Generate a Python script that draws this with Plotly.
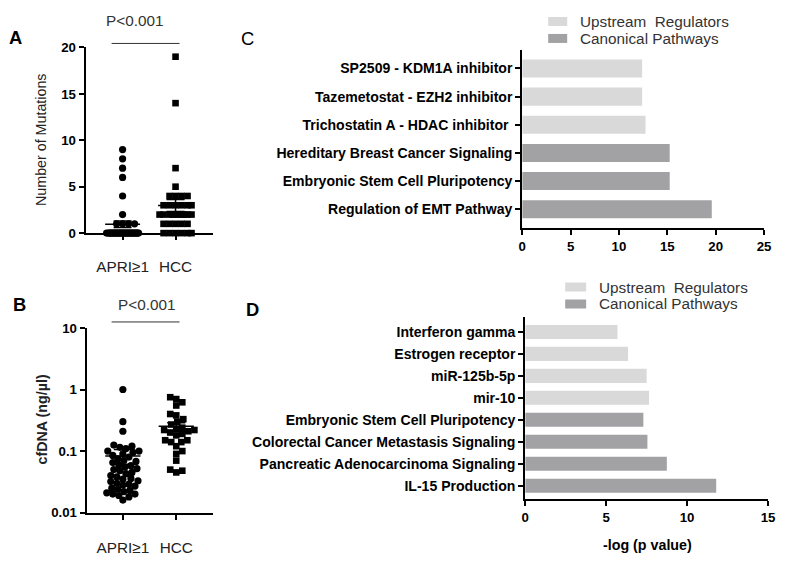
import math
import plotly.graph_objects as go

W, H = 791, 563

# ---------------- data ----------------
group_labels = ["APRI≥1", "HCC"]

# Panel A: number of mutations per patient
apri_mut = [9, 8, 7, 6, 4, 2, 1, 1, 1, 1] + [0] * 32
hcc_mut = [19, 14, 7, 5, 4, 4, 4, 4, 3, 3, 3, 3, 3, 3,
           2, 2, 2, 2, 2, 2, 2, 2, 2, 2, 1, 1, 1, 1, 1, 0, 0, 0, 0, 0, 0]

# Panel B: cfDNA (ng/µl)
apri_cf = [1.0, 0.30, 0.21, 0.125, 0.12, 0.115, 0.11, 0.10, 0.10, 0.095, 0.09, 0.085,
           0.08, 0.075, 0.07, 0.068, 0.065, 0.06, 0.058, 0.055, 0.052, 0.05, 0.048,
           0.045, 0.043, 0.04, 0.038, 0.036, 0.035, 0.033, 0.032, 0.03, 0.029, 0.028,
           0.027, 0.025, 0.024, 0.023, 0.022, 0.021, 0.02, 0.02, 0.019, 0.018, 0.016]
hcc_cf = [0.75, 0.70, 0.62, 0.55, 0.40, 0.38, 0.33, 0.30, 0.27, 0.24, 0.23, 0.22, 0.22,
          0.21, 0.20, 0.19, 0.18, 0.15, 0.15, 0.14, 0.14, 0.12, 0.10, 0.09, 0.07, 0.05,
          0.048, 0.045]

p_text = "P<0.001"

# Panel C (top to bottom)
c_terms = ["SP2509 - KDM1A inhibitor", "Tazemetostat - EZH2 inhibitor",
           "Trichostatin A - HDAC inhibitor\u00a0", "Hereditary Breast Cancer Signaling",
           "Embryonic Stem Cell Pluripotency", "Regulation of EMT Pathway"]
c_values = [12.4, 12.4, 12.75, 15.25, 15.25, 19.6]
c_types = ["Upstream  Regulators"] * 3 + ["Canonical Pathways"] * 3

# Panel D (top to bottom)
d_terms = ["Interferon gamma", "Estrogen receptor", "miR-125b-5p", "mir-10",
           "Embryonic Stem Cell Pluripotency", "Colorectal Cancer Metastasis Signaling",
           "Pancreatic Adenocarcinoma Signaling", "IL-15 Production"]
d_values = [5.7, 6.35, 7.5, 7.65, 7.3, 7.55, 8.75, 11.8]
d_types = ["Upstream  Regulators"] * 4 + ["Canonical Pathways"] * 4

type_order = ["Upstream  Regulators", "Canonical Pathways"]
type_colors = {"Upstream  Regulators": "#d9d9d9", "Canonical Pathways": "#a2a2a5"}

# ---------------- helpers ----------------
FONT = "Arial, Liberation Sans, sans-serif"
# page-to-photo correction (the photographed page appears slightly inset)
SX, BX = 0.987, 4.3
SY, BY = 0.975, 6.5
FS = 1.02  # font size correction


def px(x):
    return ((x - BX) / SX) / W


def py(y):
    return 1 - ((y - BY) / SY) / H


def f(s):
    return s * FS


def swarm(vals, to_pix, x_px_per_unit, diam, maxhalf):
    """Simple deterministic bee-swarm: returns x offsets (data units)."""
    n = len(vals)
    order = sorted(range(n), key=lambda i: vals[i])
    placed = []
    offs = [0.0] * n
    for i in order:
        yp = to_pix(vals[i])
        best, best_d = 0.0, -1
        chosen = None
        k = 0
        while k <= maxhalf:
            cands = [0.0] if k == 0 else [k * 1.0, -k * 1.0]
            for c in cands:
                md = min([math.hypot(c - a, yp - b) for a, b in placed] or [1e9])
                if md >= diam * 0.85:
                    chosen = c
                    break
                if md > best_d:
                    best_d, best = md, c
            if chosen is not None:
                break
            k += 1
        if chosen is None:
            chosen = best
        placed.append((chosen, yp))
        offs[i] = chosen / x_px_per_unit
    return offs


def mean_sem(v):
    n = len(v)
    m = sum(v) / n
    sd = math.sqrt(sum((a - m) ** 2 for a in v) / (n - 1))
    return m, sd / math.sqrt(n)


def add_group(vals, gi, sym, sz, xa, ya, to_pix, maxhalf):
    offs = swarm(vals, to_pix, 53.0, 7, maxhalf)
    fig.add_trace(go.Scatter(x=[gi + 1 + o for o in offs], y=vals, mode="markers",
                             marker=dict(symbol=sym, size=sz, color="black", line=dict(width=0)),
                             xaxis=xa, yaxis=ya, showlegend=False, cliponaxis=False,
                             hoverinfo="y"))
    m, s = mean_sem(vals)
    c = gi + 1
    fig.add_trace(go.Scatter(x=[c - 0.33, c + 0.33, None, c - 0.17, c + 0.17, None,
                                c - 0.17, c + 0.17, None, c, c],
                             y=[m, m, None, m + s, m + s, None, m - s, m - s, None, m - s, m + s],
                             mode="lines", line=dict(color="black", width=1.5),
                             xaxis=xa, yaxis=ya, showlegend=False, cliponaxis=False,
                             hoverinfo="skip"))


fig = go.Figure()

# ---------------- Panel A ----------------
A_ypx = 186 / 20.0
add_group(apri_mut, 0, "circle", 7.2, "x", "y", lambda v: -v * A_ypx, 16)
add_group(hcc_mut, 1, "square", 6.6, "x", "y", lambda v: -v * A_ypx, 16)

# ---------------- Panel B ----------------
B_dec = 61.7
add_group(apri_cf, 0, "circle", 7.2, "x2", "y2", lambda v: -math.log10(v) * B_dec, 18)
add_group(hcc_cf, 1, "square", 6.6, "x2", "y2", lambda v: -math.log10(v) * B_dec, 18)

# ---------------- Panel C ----------------
for t in type_order:
    ys = [c_terms[i] for i in range(len(c_terms)) if c_types[i] == t]
    xs = [c_values[i] for i in range(len(c_terms)) if c_types[i] == t]
    fig.add_trace(go.Bar(x=xs, y=ys, orientation="h", name=t, width=0.64,
                         marker=dict(color=type_colors[t], line=dict(width=0)),
                         xaxis="x3", yaxis="y3", showlegend=False))

# ---------------- Panel D ----------------
for t in type_order:
    ys = [d_terms[i] for i in range(len(d_terms)) if d_types[i] == t]
    xs = [d_values[i] for i in range(len(d_terms)) if d_types[i] == t]
    fig.add_trace(go.Bar(x=xs, y=ys, orientation="h", name=t, width=0.64,
                         marker=dict(color=type_colors[t], line=dict(width=0)),
                         xaxis="x4", yaxis="y4", showlegend=False))

axis_common = dict(showline=True, linecolor="black", linewidth=2, ticks="outside",
                   ticklen=5, tickwidth=2, tickcolor="black", showgrid=False,
                   zeroline=False, fixedrange=True)
bold_tick = dict(family=FONT, size=f(13), color="black", weight="bold")
cat_font = dict(family=FONT, size=f(13.8), color="black", weight="bold")
grp_font = dict(family=FONT, size=f(15), color="#222")

fig.update_layout(
    width=W, height=H, autosize=False,
    margin=dict(l=0, r=0, t=0, b=0),
    paper_bgcolor="white", plot_bgcolor="white",
    font=dict(family=FONT, color="black"),
    barmode="overlay", showlegend=False,
    # Panel A
    xaxis=dict(domain=[px(86), px(213)], range=[1 - 37 / 53, 2 + 37 / 53], anchor="y",
               tickvals=[1, 2], ticktext=group_labels, ticklabelstandoff=14,
               tickfont=grp_font, **axis_common),
    yaxis=dict(domain=[py(233), py(47)], range=[0, 20], anchor="x",
               tickvals=[0, 5, 10, 15, 20], tickfont=bold_tick, **axis_common),
    # Panel B
    xaxis2=dict(domain=[px(87), px(213)], range=[1 - 36 / 53, 2 + 36 / 53], anchor="y2",
                tickvals=[1, 2], ticktext=group_labels, ticklabelstandoff=15,
                tickfont=grp_font, **axis_common),
    yaxis2=dict(domain=[py(513), py(328)], type="log", range=[-2, 1], anchor="x2",
                tickvals=[0.01, 0.1, 1, 10], ticktext=["0.01", "0.1", "1", "10"],
                tickfont=bold_tick, **axis_common),
    # Panel C
    xaxis3=dict(domain=[px(523), px(765)], range=[0, 25], anchor="y3",
                tickvals=[0, 5, 10, 15, 20, 25], tickfont=bold_tick, **axis_common),
    yaxis3=dict(domain=[py(228), py(50)], range=[-0.67, 5.64], anchor="x3",
                categoryorder="array", categoryarray=c_terms[::-1],
                tickfont=cat_font, **axis_common),
    # Panel D
    xaxis4=dict(domain=[px(526), px(769)], range=[0, 15], anchor="y4",
                tickvals=[0, 5, 10, 15], tickfont=bold_tick, ticklabelstandoff=0,
                **axis_common),
    yaxis4=dict(domain=[py(499), py(317)], range=[-0.59, 7.68], anchor="x4",
                categoryorder="array", categoryarray=d_terms[::-1],
                tickfont=cat_font, **axis_common),
)

# Significance lines
for yline in [43, 322]:
    fig.add_shape(type="line", xref="paper", yref="paper", x0=px(112), x1=px(180),
                  y0=py(yline), y1=py(yline), line=dict(color="#333", width=1))

# Custom legends (C and D)
legend_pos = [(549, 568, 579, [21, 38]), (566, 587, 598, [287, 304])]
for x0, x1, xt, ys in legend_pos:
    for t, yc in zip(type_order, ys):
        fig.add_shape(type="rect", xref="paper", yref="paper", x0=px(x0), x1=px(x1),
                      y0=py(yc + 4.5), y1=py(yc - 4.5),
                      fillcolor=type_colors[t], line=dict(width=0))
        fig.add_annotation(text=t.replace("  ", "\u00a0 "), x=px(xt), y=py(yc),
                           xref="paper", yref="paper",
                           xanchor="left", yanchor="middle", showarrow=False,
                           font=dict(family=FONT, size=f(15), color="#333"))

ann = []
ann.append(dict(text=p_text, x=px(135), y=py(20), font=dict(size=f(15), color="#333")))
ann.append(dict(text=p_text, x=px(147), y=py(305), font=dict(size=f(15), color="#333")))
ann.append(dict(text="<b>A</b>", x=px(16), y=py(37), font=dict(size=f(18))))
ann.append(dict(text="<b>B</b>", x=px(20), y=py(305), font=dict(size=f(18))))
ann.append(dict(text="C", x=px(248), y=py(38), font=dict(size=f(18))))
ann.append(dict(text="<b>D</b>", x=px(253), y=py(310), font=dict(size=f(18))))
ann.append(dict(text="Number of Mutations", x=px(42), y=py(140), textangle=-90,
                font=dict(size=f(14), color="#222")))
ann.append(dict(text="<b>cfDNA (ng/µl)</b>", x=px(42), y=py(420), textangle=-90,
                font=dict(size=f(14), color="#222")))
ann.append(dict(text="<b>-log (p value)</b>", x=px(648), y=py(545),
                font=dict(size=f(14), color="black")))
for a in ann:
    a.update(xref="paper", yref="paper", showarrow=False, xanchor="center", yanchor="middle")
    a["font"].setdefault("family", FONT)
    fig.add_annotation(**a)

fig.write_html("out.html", config={"displayModeBar": False},
               post_script="document.body.style.margin='0px';")
